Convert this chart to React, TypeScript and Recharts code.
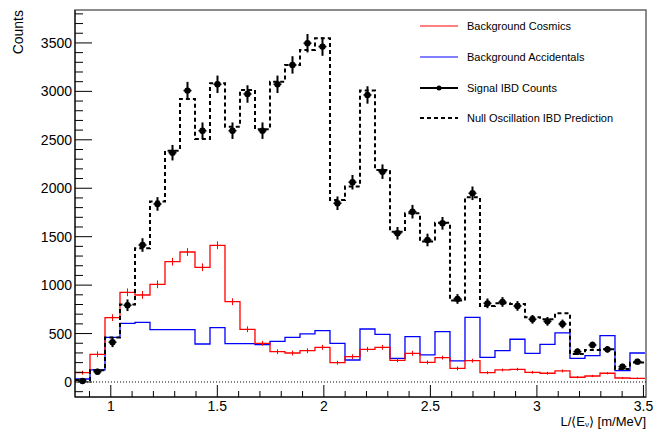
import { ComposedChart, Line, Scatter, ErrorBar, XAxis, YAxis, ReferenceLine, ReferenceArea, Legend } from 'recharts'

// histogram binning (38 bins in L/<E>)
const BIN_LO = 0.832
const BIN_W = 0.0704
const X_MIN = 0.832
const X_MAX = 3.512
const Y_MIN = -155
const Y_MAX = 3840

const cosmics = [96, 286, 664, 926, 898, 1008, 1242, 1342, 1184, 1411, 829, 544, 399, 313, 299, 323, 358, 199, 261, 337, 358, 224, 296, 203, 251, 141, 220, 96, 124, 131, 100, 90, 114, 49, 62, 90, 41, 38]
const cosmicsErr = [20, 30, 35, 40, 40, 40, 40, 40, 40, 40, 35, 30, 25, 25, 25, 25, 25, 20, 25, 25, 25, 20, 25, 20, 20, 20, 20, 15, 15, 15, 15, 15, 15, 12, 12, 12, 10, 10]
const accidentals = [31, 124, 461, 606, 616, 540, 540, 540, 392, 561, 396, 396, 385, 420, 461, 496, 530, 399, 227, 547, 492, 244, 468, 279, 520, 217, 668, 255, 323, 441, 296, 389, 506, 244, 272, 478, 117, 299]
const prediction = [20, 120, 460, 800, 1380, 1862, 2388, 2922, 2509, 3084, 2636, 3015, 2609, 3100, 3273, 3428, 3548, 1879, 2017, 3008, 2189, 1552, 1741, 1449, 1645, 840, 1907, 785, 812, 805, 668, 647, 709, 289, 330, 337, 134, 200]
const signal = [10, 106, 410, 792, 1414, 1838, 2367, 3008, 2594, 3073, 2594, 2973, 2594, 3073, 3273, 3497, 3462, 1845, 2062, 2963, 2171, 1535, 1758, 1466, 1638, 857, 1948, 812, 826, 785, 647, 626, 599, 313, 382, 337, 158, 210]
const signalErr = [20, 30, 50, 60, 70, 70, 80, 90, 85, 90, 85, 90, 85, 90, 90, 95, 95, 70, 75, 90, 75, 65, 70, 65, 65, 50, 70, 50, 50, 50, 45, 45, 45, 35, 35, 35, 30, 30]

const yMajor = [0, 500, 1000, 1500, 2000, 2500, 3000, 3500]
const xMajor = [1, 1.5, 2, 2.5, 3, 3.5]
const yTicks = Array.from({ length: 40 }, (_, i) => -100 + i * 100)
const xTicks = Array.from({ length: 27 }, (_, i) => Math.round((0.9 + i * 0.1) * 10) / 10)

const FONT = '"Liberation Sans", Arial, Helvetica, sans-serif'

function histSteps(vals: number[]) {
  const pts = vals.map((v, i) => ({ x: BIN_LO + i * BIN_W, y: v }))
  pts.push({ x: BIN_LO + vals.length * BIN_W, y: vals[vals.length - 1] })
  return pts
}

function binPoints(vals: number[], errs: number[]) {
  return vals.map((v, i) => ({ x: BIN_LO + (i + 0.5) * BIN_W, y: v, err: errs[i] }))
}

const cosmicsLine = histSteps(cosmics)
const accidentalsLine = histSteps(accidentals)
const predictionLine = histSteps(prediction)
const cosmicsPts = binPoints(cosmics, cosmicsErr)
const signalPts = binPoints(signal, signalErr)

const YTick = (props: any) => {
  const { x, y, payload } = props
  const major = yMajor.includes(payload.value)
  return (
    <g>
      <line x1={x} x2={x + (major ? 17 : 8)} y1={y} y2={y} stroke="#000" strokeWidth={1} />
      {major && (
        <text x={x - 3} y={y} dy="0.36em" textAnchor="end" fontSize={14} fontFamily={FONT} fill="#000">
          {payload.value}
        </text>
      )}
    </g>
  )
}

const XTick = (props: any) => {
  const { x, y, payload } = props
  const major = xMajor.includes(payload.value)
  return (
    <g>
      <line x1={x} x2={x} y1={y} y2={y - (major ? 12 : 6)} stroke="#000" strokeWidth={1} />
      {major && (
        <text x={x} y={y + 14} textAnchor="middle" fontSize={14} fontFamily={FONT} fill="#000">
          {String(payload.value)}
        </text>
      )}
    </g>
  )
}

const SignalDot = (props: any) => {
  const { cx, cy } = props
  return (
    <g>
      <line x1={cx - 4} x2={cx + 4} y1={cy} y2={cy} stroke="#000" strokeWidth={1.5} />
      <circle cx={cx} cy={cy} r={3.2} fill="#000" />
    </g>
  )
}

const NoDot = () => <g />

const legendItems = [
  { label: 'Background Cosmics', color: '#ff0000', dash: undefined, width: 1, dot: false },
  { label: 'Background Accidentals', color: '#0000ff', dash: undefined, width: 1, dot: false },
  { label: 'Signal IBD Counts', color: '#000', dash: undefined, width: 2, dot: true },
  { label: 'Null Oscillation IBD Prediction', color: '#000', dash: '4 3', width: 2, dot: false },
]

const renderLegend = () => (
  <div style={{ fontFamily: FONT, fontSize: 11, color: '#000' }}>
    {legendItems.map((it) => (
      <div key={it.label} style={{ display: 'flex', alignItems: 'center', height: 30.7 }}>
        <svg width={47} height={10} style={{ display: 'block' }}>
          <line x1={0} x2={38} y1={5} y2={5} stroke={it.color} strokeWidth={it.width} strokeDasharray={it.dash} />
          {it.dot && <circle cx={19} cy={5} r={2.5} fill="#000" />}
        </svg>
        <span>{it.label}</span>
      </div>
    ))}
  </div>
)

export default function App() {
  return (
    <div style={{ width: 664, height: 429, background: '#fff', position: 'relative' }}>
      <style>{'body{margin:0}'}</style>
      <ComposedChart width={664} height={429} margin={{ top: 10, right: 18, bottom: 0, left: 25 }}>
        <XAxis
          type="number"
          dataKey="x"
          domain={[X_MIN, X_MAX]}
          allowDataOverflow
          ticks={xTicks}
          interval={0}
          tick={<XTick />}
          tickLine={false}
          tickSize={0}
          tickMargin={0}
          height={32}
          axisLine={{ stroke: '#000', strokeWidth: 1 }}
          label={{
            content: (p: any) => (
              <text x={p.viewBox.x + p.viewBox.width} y={p.viewBox.y + 29} textAnchor="end" fontSize={13} fontFamily={FONT} fill="#000">
                L/⟨E<tspan fontSize={8} dy={1}>ν</tspan><tspan dy={-1}>⟩ [m/MeV]</tspan>
              </text>
            ),
          }}
        />
        <YAxis
          type="number"
          domain={[Y_MIN, Y_MAX]}
          allowDataOverflow
          ticks={yTicks}
          interval={0}
          tick={<YTick />}
          tickLine={false}
          tickSize={0}
          tickMargin={0}
          width={50}
          axisLine={{ stroke: '#000', strokeWidth: 1 }}
          label={{
            content: () => (
              <text
                x={23}
                y={10}
                transform="rotate(-90, 23, 10)"
                textAnchor="end"
                fontSize={14}
                fontFamily={FONT}
                fill="#000"
              >
                Counts
              </text>
            ),
          }}
        />
        <ReferenceArea x1={X_MIN} x2={X_MAX} y1={Y_MIN} y2={Y_MAX} fill="none" stroke="#666" strokeWidth={1.5} />
        <ReferenceLine y={0} stroke="#000" strokeDasharray="1 2" strokeWidth={1} />
        <Line data={accidentalsLine} dataKey="y" type="stepAfter" stroke="#0000ff" strokeWidth={1.3} dot={false} isAnimationActive={false} />
        <Line data={cosmicsLine} dataKey="y" type="stepAfter" stroke="#ff0000" strokeWidth={1.3} dot={false} isAnimationActive={false} />
        <Scatter data={cosmicsPts} dataKey="y" shape={<NoDot />} isAnimationActive={false}>
          <ErrorBar dataKey="err" direction="y" width={0} stroke="#ff0000" strokeWidth={1} />
        </Scatter>
        <Line data={predictionLine} dataKey="y" type="stepAfter" stroke="#000" strokeWidth={2} strokeDasharray="4 3" dot={false} isAnimationActive={false} />
        <Scatter data={signalPts} dataKey="y" shape={<SignalDot />} isAnimationActive={false}>
          <ErrorBar dataKey="err" direction="y" width={0} stroke="#000" strokeWidth={2} />
        </Scatter>
        <Legend
          layout="horizontal"
          verticalAlign="middle"
          content={renderLegend}
          wrapperStyle={{ position: 'absolute', left: 420, top: 11, width: 240, height: 124 }}
        />
      </ComposedChart>
    </div>
  )
}
